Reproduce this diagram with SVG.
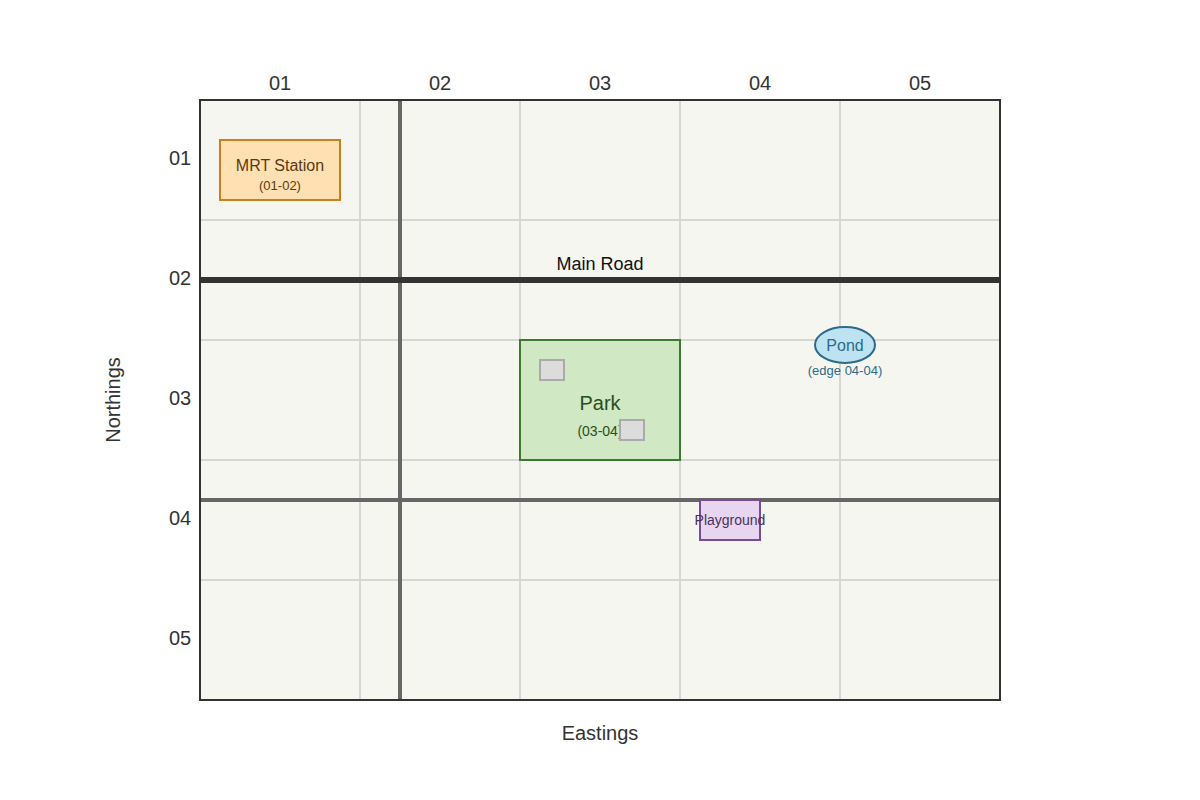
<svg xmlns="http://www.w3.org/2000/svg" width="1200" height="800" viewBox="0 0 1200 800">
<style>
text{font-family:"Liberation Sans",Arial,sans-serif}
.ax{font-size:20px;fill:#333;text-anchor:middle}
.g{stroke:#d6d6d2;stroke-width:2}
</style>
<rect width="1200" height="800" fill="#fff"/>
<rect x="200" y="100" width="800" height="600" fill="#f5f6f0"/>
<g id="grid">
<line class="g" x1="360" y1="100" x2="360" y2="700"/>
<line class="g" x1="520" y1="100" x2="520" y2="700"/>
<line class="g" x1="680" y1="100" x2="680" y2="700"/>
<line class="g" x1="840" y1="100" x2="840" y2="700"/>
<line class="g" x1="200" y1="220" x2="1000" y2="220"/>
<line class="g" x1="200" y1="340" x2="1000" y2="340"/>
<line class="g" x1="200" y1="460" x2="1000" y2="460"/>
<line class="g" x1="200" y1="580" x2="1000" y2="580"/>
</g>
<g id="roads">
<line x1="400" y1="100" x2="400" y2="700" stroke="#666" stroke-width="4"/>
<line x1="200" y1="500" x2="1000" y2="500" stroke="#666" stroke-width="4"/>
<line x1="200" y1="280" x2="1000" y2="280" stroke="#333" stroke-width="6"/>
<text x="600" y="270" font-size="18" text-anchor="middle" fill="#111">Main Road</text>
</g>
<rect x="200" y="100" width="800" height="600" fill="none" stroke="#333" stroke-width="2"/>
<g id="axes">
<text class="ax" x="280" y="90">01</text>
<text class="ax" x="440" y="90">02</text>
<text class="ax" x="600" y="90">03</text>
<text class="ax" x="760" y="90">04</text>
<text class="ax" x="920" y="90">05</text>
<text class="ax" x="180" y="165">01</text>
<text class="ax" x="180" y="285">02</text>
<text class="ax" x="180" y="405">03</text>
<text class="ax" x="180" y="525">04</text>
<text class="ax" x="180" y="645">05</text>
<text class="ax" x="600" y="740" font-size="22">Eastings</text>
<text class="ax" x="0" y="0" font-size="22" transform="translate(120,400) rotate(-90)">Northings</text>
</g>
<g id="mrt">
<rect x="220" y="140" width="120" height="60" fill="#fee0b2" stroke="#c8811e" stroke-width="2"/>
<text x="280" y="171" font-size="16" text-anchor="middle" fill="#5a3a10">MRT Station</text>
<text x="280" y="190" font-size="13" text-anchor="middle" fill="#5a3a10">(01-02)</text>
</g>
<g id="park">
<rect x="520" y="340" width="160" height="120" fill="#d0e8c4" stroke="#3b7a2f" stroke-width="2"/>
<rect x="540" y="360" width="24" height="20" fill="#dcdcdc" stroke="#aaa" stroke-width="2"/>
<text x="600" y="410" font-size="20" text-anchor="middle" fill="#284d20">Park</text>
<text x="600" y="436" font-size="14" text-anchor="middle" fill="#284d20">(03-04)</text>
<rect x="620" y="420" width="24" height="20" fill="#dcdcdc" stroke="#aaa" stroke-width="2"/>
</g>
<g id="pond">
<ellipse cx="845" cy="345" rx="30" ry="18" fill="#bde3f2" stroke="#2b6b8a" stroke-width="2"/>
<text x="845" y="351" font-size="16" text-anchor="middle" fill="#2b6b8a">Pond</text>
<text x="845" y="375" font-size="13" text-anchor="middle" fill="#2b6b8a">(edge 04-04)</text>
</g>
<g id="playground">
<rect x="700" y="500" width="60" height="40" fill="#e8d6f0" stroke="#7a4a9a" stroke-width="2"/>
<text x="730" y="525" font-size="14" text-anchor="middle" fill="#4a3060">Playground</text>
</g>
</svg>
